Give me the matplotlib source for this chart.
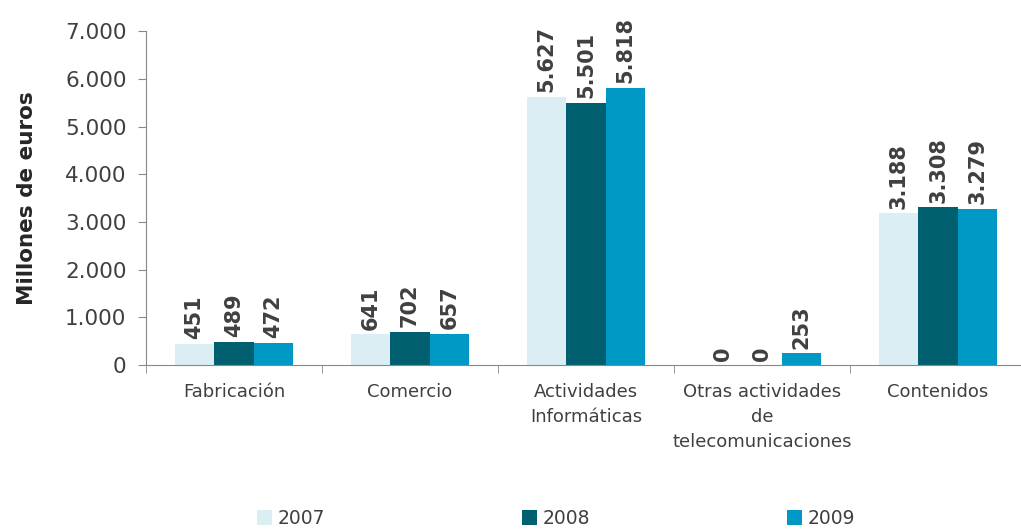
import matplotlib
matplotlib.use("Agg")
import matplotlib.pyplot as plt
import numpy as np

categories = ["Fabricación", "Comercio", "Actividades\nInformáticas",
              "Otras actividades\nde\ntelecomunicaciones", "Contenidos"]
years = ["2007", "2008", "2009"]
v2007 = [451, 641, 5627, 0, 3188]
v2008 = [489, 702, 5501, 0, 3308]
v2009 = [472, 657, 5818, 253, 3279]
colors = ["#DAEEF3", "#00606F", "#0099C6"]

def fmt(v):
    return f"{v:,}".replace(",", ".")

fig = plt.figure(figsize=(10.21, 5.29), dpi=100)
ax = fig.add_axes([0.143, 0.31, 0.862, 0.631])

x = np.arange(len(categories))
w = 0.224
for i, (vals, c) in enumerate(zip([v2007, v2008, v2009], colors)):
    pos = x + (i - 1) * w
    ax.bar(pos, vals, width=w, color=c, label=years[i], zorder=2)
    for p, v in zip(pos, vals):
        ax.text(p, v + 90, fmt(v), rotation=90, ha="center", va="bottom",
                fontsize=15, fontweight="bold", color="#404040")

ax.set_xlim(-0.5, 4.5)
ax.set_ylim(0, 7000)
ax.set_yticks(np.arange(0, 7001, 1000))
ax.set_yticklabels([fmt(v) for v in range(0, 7001, 1000)], fontsize=15.5, color="#404040")
ax.set_xticks(x)
ax.set_xticklabels(categories, fontsize=13, color="#404040", linespacing=1.5)
ax.tick_params(axis="x", length=0, pad=13)
ax.set_xticks(np.arange(-0.5, 4.6, 1), minor=True)
ax.tick_params(axis="x", which="minor", length=6, color="#888888", direction="out")
ax.tick_params(axis="y", length=6, color="#888888", direction="out", pad=8)
for s in ["top", "right"]:
    ax.spines[s].set_visible(False)
for s in ["left", "bottom"]:
    ax.spines[s].set_color("#888888")
ax.set_ylabel("Millones de euros", fontsize=15.5, fontweight="bold", color="#262626", labelpad=20)

fig.legend(loc="lower center", bbox_to_anchor=(0.545, -0.03), ncol=3, frameon=False,
           fontsize=13.5, handlelength=0.8, handleheight=0.8, handletextpad=0.3,
           columnspacing=10.5, labelcolor="#404040")

fig.savefig("out.png", dpi=100)
